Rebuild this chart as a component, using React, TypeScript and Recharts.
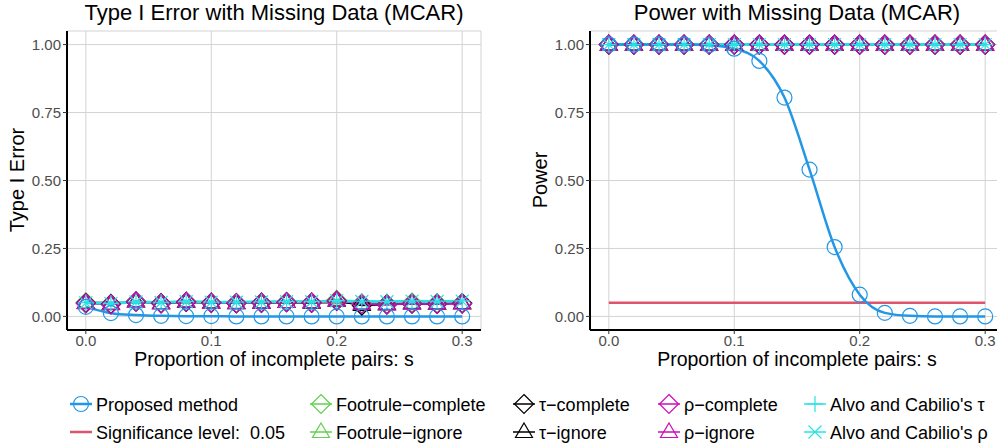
import React from 'react';
import { LineChart, Line, XAxis, YAxis, CartesianGrid } from 'recharts';

const sValues = [0, 0.02, 0.04, 0.06, 0.08, 0.1, 0.12, 0.14, 0.16, 0.18, 0.2, 0.22, 0.24, 0.26, 0.28, 0.3];
const xTicks = [0, 0.1, 0.2, 0.3];
const yTicks = [0, 0.25, 0.5, 0.75, 1];

// Type I error panel
const t1Proposed = [0.035, 0.012, 0.005, 0.002, 0.001, 0.001, 0, 0, 0, 0, 0, 0, 0, 0, 0, 0];
const t1Level = [0.05, 0.05, 0.05, 0.05, 0.05, 0.05, 0.05, 0.05, 0.05, 0.05, 0.05, 0.05, 0.05, 0.05, 0.05, 0.05];
const t1FootComplete = [0.052, 0.047, 0.056, 0.05, 0.054, 0.051, 0.05, 0.052, 0.054, 0.052, 0.061, 0.048, 0.046, 0.051, 0.049, 0.05];
const t1FootIgnore = [0.05, 0.046, 0.055, 0.049, 0.055, 0.052, 0.049, 0.051, 0.053, 0.053, 0.062, 0.047, 0.045, 0.05, 0.048, 0.049];
const t1TauComplete = [0.049, 0.045, 0.054, 0.048, 0.053, 0.05, 0.048, 0.05, 0.052, 0.05, 0.057, 0.04, 0.044, 0.047, 0.046, 0.048];
const t1TauIgnore = [0.05, 0.046, 0.055, 0.049, 0.054, 0.051, 0.049, 0.051, 0.053, 0.051, 0.058, 0.042, 0.045, 0.048, 0.047, 0.049];
const t1RhoComplete = [0.048, 0.044, 0.055, 0.048, 0.054, 0.05, 0.049, 0.05, 0.052, 0.051, 0.058, 0.046, 0.043, 0.047, 0.046, 0.047];
const t1RhoIgnore = [0.049, 0.045, 0.056, 0.049, 0.055, 0.051, 0.05, 0.051, 0.053, 0.052, 0.059, 0.047, 0.044, 0.048, 0.047, 0.048];
const t1AlvoTau = [0.051, 0.048, 0.054, 0.052, 0.055, 0.053, 0.053, 0.054, 0.055, 0.055, 0.058, 0.056, 0.055, 0.057, 0.056, 0.057];
const t1AlvoRho = [0.05, 0.047, 0.053, 0.051, 0.054, 0.052, 0.052, 0.053, 0.054, 0.054, 0.057, 0.055, 0.054, 0.056, 0.055, 0.056];

// Power panel
const pwProposed = [1, 1, 1, 1, 0.998, 0.985, 0.94, 0.805, 0.54, 0.255, 0.08, 0.013, 0.002, 0, 0, 0];
const pwLevel = [0.05, 0.05, 0.05, 0.05, 0.05, 0.05, 0.05, 0.05, 0.05, 0.05, 0.05, 0.05, 0.05, 0.05, 0.05, 0.05];
const pwOthers = [1, 1, 1, 1, 1, 1, 1, 1, 1, 1, 1, 1, 1, 1, 1, 1];

const BLUE = '#2297E6';
const RED = '#DF536B';
const GREEN = '#61D04F';
const BLACK = '#000000';
const MAGENTA = '#CD0BBC';
const CYAN = '#28E2E5';
const FONT = '"Liberation Sans", Arial, sans-serif';

type Shape = 'circle' | 'diamond' | 'triangle' | 'plus' | 'cross' | 'none';

const Marker = ({ cx, cy, shape, color }: { cx: number; cy: number; shape: Shape; color: string }) => {
  const sw = 1.2;
  if (shape === 'circle') return <circle cx={cx} cy={cy} r={7.5} fill="none" stroke={color} strokeWidth={sw} />;
  if (shape === 'diamond')
    return <path d={`M${cx},${cy - 9.5}L${cx + 9.5},${cy}L${cx},${cy + 9.5}L${cx - 9.5},${cy}Z`} fill="none" stroke={color} strokeWidth={sw} />;
  if (shape === 'triangle')
    return <path d={`M${cx},${cy - 9}L${cx + 8.5},${cy + 5.5}L${cx - 8.5},${cy + 5.5}Z`} fill="none" stroke={color} strokeWidth={sw} />;
  if (shape === 'plus')
    return <path d={`M${cx - 8},${cy}L${cx + 8},${cy}M${cx},${cy - 8}L${cx},${cy + 8}`} fill="none" stroke={color} strokeWidth={sw} />;
  if (shape === 'cross')
    return <path d={`M${cx - 6.5},${cy - 6.5}L${cx + 6.5},${cy + 6.5}M${cx - 6.5},${cy + 6.5}L${cx + 6.5},${cy - 6.5}`} fill="none" stroke={color} strokeWidth={sw} />;
  return null;
};

const makeDot = (shape: Shape, color: string) => (p: any) => {
  if (p.cx == null || p.cy == null) return <g key={p.index} />;
  return (
    <g key={p.index}>
      <Marker cx={p.cx} cy={p.cy} shape={shape} color={color} />
    </g>
  );
};

interface SeriesDef {
  key: string;
  label: string;
  color: string;
  shape: Shape;
  width: number;
}

const series: SeriesDef[] = [
  { key: 'level', label: 'Significance level:  0.05', color: RED, shape: 'none', width: 2.5 },
  { key: 'footC', label: 'Footrule\u2212complete', color: GREEN, shape: 'diamond', width: 1.5 },
  { key: 'footI', label: 'Footrule\u2212ignore', color: GREEN, shape: 'triangle', width: 1.5 },
  { key: 'tauC', label: '\u03c4\u2212complete', color: BLACK, shape: 'diamond', width: 1.5 },
  { key: 'tauI', label: '\u03c4\u2212ignore', color: BLACK, shape: 'triangle', width: 1.5 },
  { key: 'rhoC', label: '\u03c1\u2212complete', color: MAGENTA, shape: 'diamond', width: 1.5 },
  { key: 'rhoI', label: '\u03c1\u2212ignore', color: MAGENTA, shape: 'triangle', width: 1.5 },
  { key: 'alvoT', label: "Alvo and Cabilio's \u03c4", color: CYAN, shape: 'plus', width: 2.5 },
  { key: 'alvoR', label: "Alvo and Cabilio's \u03c1", color: CYAN, shape: 'cross', width: 2.5 },
  { key: 'proposed', label: 'Proposed method', color: BLUE, shape: 'circle', width: 2.5 },
];

const t1Data = sValues.map((s, i) => ({
  s,
  proposed: t1Proposed[i],
  level: t1Level[i],
  footC: t1FootComplete[i],
  footI: t1FootIgnore[i],
  tauC: t1TauComplete[i],
  tauI: t1TauIgnore[i],
  rhoC: t1RhoComplete[i],
  rhoI: t1RhoIgnore[i],
  alvoT: t1AlvoTau[i],
  alvoR: t1AlvoRho[i],
}));

const pwData = sValues.map((s, i) => ({
  s,
  proposed: pwProposed[i],
  level: pwLevel[i],
  footC: pwOthers[i],
  footI: pwOthers[i],
  tauC: pwOthers[i],
  tauI: pwOthers[i],
  rhoC: pwOthers[i],
  rhoI: pwOthers[i],
  alvoT: pwOthers[i],
  alvoR: pwOthers[i],
}));

const Panel = ({ data, yAxisWidth, width, rightMargin }: { data: any[]; yAxisWidth: number; width: number; rightMargin: number }) => (
  <LineChart width={width} height={370} data={data} margin={{ top: 31, right: rightMargin, bottom: 10, left: 0 }}>
    <CartesianGrid stroke="#D3D3D3" strokeWidth={1} />
    <XAxis
      dataKey="s"
      type="number"
      domain={[-0.015, 0.315]}
      ticks={xTicks}
      tickFormatter={(v: number) => v.toFixed(1)}
      height={30}
      tickSize={4}
      tickMargin={1}
      stroke="#333333"
      axisLine={{ stroke: BLACK, strokeWidth: 2 }}
      tick={{ fill: '#4D4D4D', fontSize: 15, fontFamily: FONT }}
    />
    <XAxis xAxisId="top" dataKey="s" type="number" domain={[-0.015, 0.315]} orientation="top" height={0} tick={false} tickLine={false} axisLine={{ stroke: BLACK, strokeWidth: 2 }} />
    <YAxis
      type="number"
      domain={[-0.05, 1.05]}
      ticks={yTicks}
      tickFormatter={(v: number) => v.toFixed(2)}
      width={yAxisWidth}
      tickSize={4}
      tickMargin={2}
      stroke="#333333"
      axisLine={{ stroke: BLACK, strokeWidth: 2 }}
      tick={{ fill: '#4D4D4D', fontSize: 15, fontFamily: FONT }}
    />
    <YAxis yAxisId="right" orientation="right" type="number" domain={[-0.05, 1.05]} width={0} tick={false} tickLine={false} axisLine={{ stroke: BLACK, strokeWidth: 2 }} />
    {series.map((sd) => (
      <Line
        key={sd.key}
        dataKey={sd.key}
        type={sd.key === 'proposed' ? 'monotone' : 'linear'}
        stroke={sd.color}
        strokeWidth={sd.width}
        dot={sd.shape === 'none' ? false : makeDot(sd.shape, sd.color)}
        activeDot={false}
        isAnimationActive={false}
      />
    ))}
  </LineChart>
);

const legendRows: string[][] = [
  ['proposed', 'footC', 'tauC', 'rhoC', 'alvoT'],
  ['level', 'footI', 'tauI', 'rhoI', 'alvoR'],
];
const legendCols = [70, 310, 513, 658, 804];

const Legend = () => (
  <svg width={997} height={70} style={{ position: 'absolute', left: 0, top: 376 }}>
    {legendRows.map((row, r) =>
      row.map((k, c) => {
        const sd = series.find((x) => x.key === k)!;
        const x0 = legendCols[c];
        const y = 28 + r * 28;
        return (
          <g key={k}>
            <line x1={x0} x2={x0 + 22} y1={y} y2={y} stroke={sd.color} strokeWidth={sd.key === 'level' || sd.key === 'proposed' ? 2.5 : 1.5} />
            <Marker cx={x0 + 11} cy={y} shape={sd.shape} color={sd.color} />
            <text x={x0 + 26} y={y + 6.5} fontSize={18} fontFamily={FONT} fill="#000" style={{ whiteSpace: 'pre' }}>
              {sd.label}
            </text>
          </g>
        );
      })
    )}
  </svg>
);

const textStyle: React.CSSProperties = { position: 'absolute', fontFamily: FONT, color: '#000', whiteSpace: 'nowrap', lineHeight: 1.15 };

export default function App() {
  return (
    <div style={{ position: 'absolute', left: 0, top: 0, width: 997, height: 446, overflow: 'hidden', background: '#fff' }}>
      <div style={{ position: 'absolute', left: 0, top: 0 }}>
        <Panel data={t1Data} yAxisWidth={67} width={490} rightMargin={9} />
      </div>
      <div style={{ position: 'absolute', left: 500, top: 0 }}>
        <Panel data={pwData} yAxisWidth={90} width={520} rightMargin={16} />
      </div>
      <div style={{ ...textStyle, left: 67, width: 414, top: 0, textAlign: 'center', fontSize: 22 }}>Type I Error with Missing Data (MCAR)</div>
      <div style={{ ...textStyle, left: 590, width: 414, top: 0, textAlign: 'center', fontSize: 22 }}>Power with Missing Data (MCAR)</div>
      <div style={{ ...textStyle, left: 67, width: 414, top: 348, textAlign: 'center', fontSize: 19.5 }}>Proportion of incomplete pairs: s</div>
      <div style={{ ...textStyle, left: 590, width: 414, top: 348, textAlign: 'center', fontSize: 19.5 }}>Proportion of incomplete pairs: s</div>
      <div style={{ ...textStyle, left: 17, top: 180, fontSize: 20, transform: 'translate(-50%, -50%) rotate(-90deg)' }}>Type I Error</div>
      <div style={{ ...textStyle, left: 540, top: 180, fontSize: 20, transform: 'translate(-50%, -50%) rotate(-90deg)' }}>Power</div>
      <Legend />
    </div>
  );
}
